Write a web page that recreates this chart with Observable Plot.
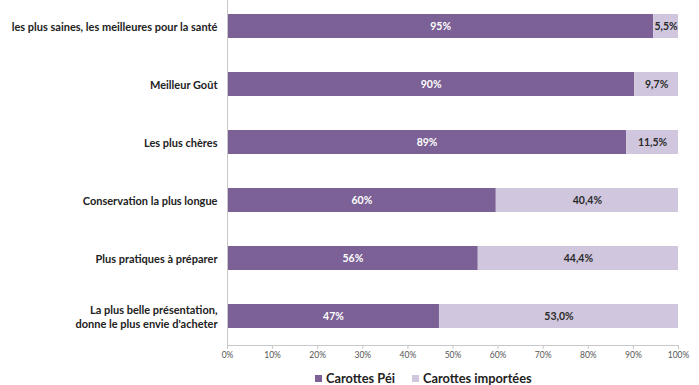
<!DOCTYPE html>
<html>
<head>
<meta charset="utf-8">
<script src="https://cdn.jsdelivr.net/npm/d3@7"></script>
<script src="https://cdn.jsdelivr.net/npm/@observablehq/plot@0.6"></script>
<style>
  html, body { margin: 0; padding: 0; background: #fff; }
  body { width: 699px; height: 385px; overflow: hidden; font-family: Lato, "Open Sans", sans-serif; }
  #legend { display: flex; align-items: center; height: 20px; margin-top: 8px; padding-left: 315px; font-weight: bold; font-size: 12.8px; color: #222; }
  #legend .sw { display: inline-block; width: 7px; height: 7px; margin-right: 4px; }
  #legend .item { display: flex; align-items: center; margin-right: 17px; }
</style>
</head>
<body>
<div id="chart"></div>
<div id="legend"></div>
<script>
const categories = [
  "les plus saines, les meilleures pour la santé",
  "Meilleur Goût",
  "Les plus chères",
  "Conservation la plus longue",
  "Plus pratiques à préparer",
  "La plus belle présentation,\ndonne le plus envie d'acheter"
];
const peiValues = [94.5, 90.3, 88.5, 59.6, 55.6, 47.0];
const peiLabels = ["95%", "90%", "89%", "60%", "56%", "47%"];
const importValues = [5.5, 9.7, 11.5, 40.4, 44.4, 53.0];
const importLabels = ["5,5%", "9,7%", "11,5%", "40,4%", "44,4%", "53,0%"];
const seriesNames = ["Carottes Péi", "Carottes importées"];
const seriesColors = ["#7b6195", "#d0c7de"];
const xTicks = [0, 10, 20, 30, 40, 50, 60, 70, 80, 90, 100];

const data = [];
categories.forEach((c, i) => {
  data.push({cat: c, series: seriesNames[0], value: peiValues[i], label: peiLabels[i]});
  data.push({cat: c, series: seriesNames[1], value: importValues[i], label: importLabels[i]});
});

const stackOpts = {x: "value", y: "cat", fill: "series", order: seriesNames};

const chart = Plot.plot({
  width: 699,
  height: 360,
  marginLeft: 227,
  marginRight: 21,
  marginTop: 0,
  marginBottom: 15,
  style: {fontFamily: "Lato, 'Open Sans', sans-serif", background: "#fff"},
  x: {domain: [0, 100], axis: null, label: null},
  y: {domain: categories, range: [-3, 345], paddingInner: 0.58, paddingOuter: 0.29, axis: null, label: null},
  color: {domain: seriesNames, range: seriesColors},
  marks: [
    Plot.barX(data, Plot.stackX(stackOpts)),
    Plot.text(data, Plot.stackX({
      ...stackOpts,
      text: "label",
      fill: d => d.series === seriesNames[0] ? "#ffffff" : "#2a2a2a",
      fontWeight: "bold",
      fontSize: 10.5
    })),
    Plot.frame({anchor: "left", stroke: "#c8c8c8"}),
    Plot.frame({anchor: "bottom", stroke: "#c8c8c8"}),
    Plot.axisX({
      ticks: xTicks,
      tickFormat: d => d + "%",
      tickSize: 4,
      tickPadding: 2,
      stroke: "#c8c8c8",
      color: "#555",
      fontSize: 8.5,
      anchor: "bottom",
      label: null
    }),
    Plot.text(categories, {
      x: 0, y: d => d, text: d => d,
      dx: -10, textAnchor: "end", lineHeight: 1.3,
      fontWeight: "bold", fontSize: 11, fill: "#222"
    })
  ]
});
document.getElementById("chart").appendChild(chart);

const legend = document.getElementById("legend");
seriesNames.forEach((s, i) => {
  const it = document.createElement("span");
  it.className = "item";
  const sw = document.createElement("span");
  sw.className = "sw";
  sw.style.background = seriesColors[i];
  it.appendChild(sw);
  it.appendChild(document.createTextNode(s));
  legend.appendChild(it);
});
</script>
</body>
</html>
